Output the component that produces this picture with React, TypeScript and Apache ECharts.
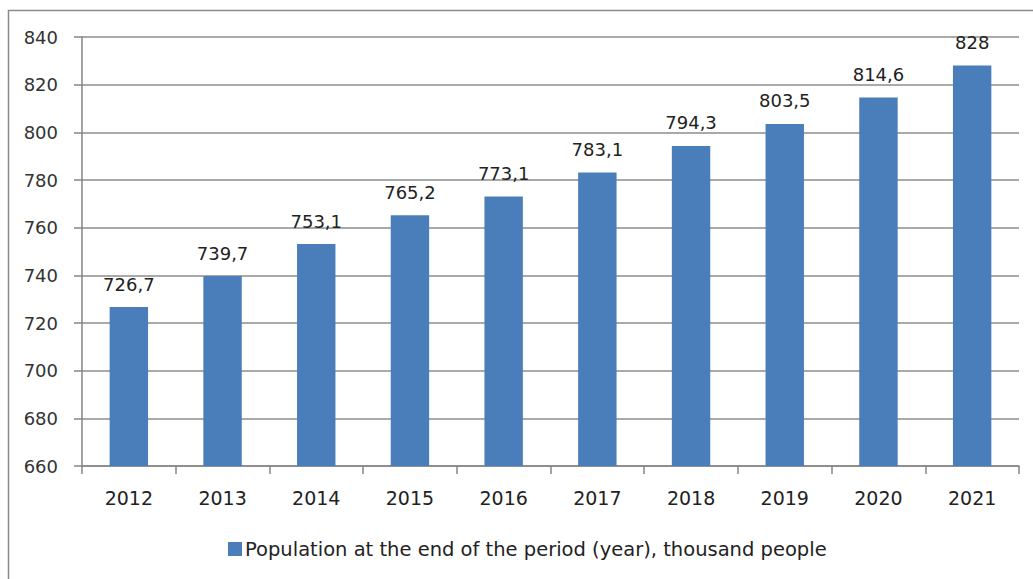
import React, { useEffect, useRef } from "react";
import * as echarts from "echarts";

const years = ["2012", "2013", "2014", "2015", "2016", "2017", "2018", "2019", "2020", "2021"];
const population = [726.7, 739.7, 753.1, 765.2, 773.1, 783.1, 794.3, 803.5, 814.6, 828];
const seriesName = "Population at the end of the period (year), thousand people";
const yMin = 660;
const yMax = 840;
const yStep = 20;

export default function App() {
  const ref = useRef<HTMLDivElement>(null);
  useEffect(() => {
    if (!ref.current) return;
    const chart = echarts.init(ref.current, null, { renderer: "svg" });
    const font = "DejaVu Sans";
    chart.setOption({
      animation: false,
      backgroundColor: "#ffffff",
      graphic: [
        {
          type: "rect",
          shape: { x: 8.5, y: 10.5, width: 1100, height: 700 },
          style: { fill: "none", stroke: "#8a8a8a", lineWidth: 1.5 },
          silent: true,
        },
      ],
      grid: { left: 82, right: 14, top: 37, bottom: 113, containLabel: false },
      legend: {
        top: 534,
        left: 223,
        itemWidth: 14,
        itemHeight: 14,
        icon: "rect",
        itemGap: 4,
        textStyle: { fontFamily: font, fontSize: 19.5, color: "#222", padding: [0, 0, 0, -2] },
        data: [seriesName],
      },
      xAxis: {
        type: "category",
        data: years,
        axisLine: { lineStyle: { color: "#868686", width: 1.5 } },
        axisTick: { show: true, length: 8, lineStyle: { color: "#868686", width: 1.5 } },
        axisLabel: { fontFamily: font, fontSize: 19, color: "#222", margin: 22 },
      },
      yAxis: {
        type: "value",
        min: yMin,
        max: yMax,
        interval: yStep,
        axisLine: { show: true, lineStyle: { color: "#868686", width: 1.5 } },
        axisTick: { show: true, length: 8, lineStyle: { color: "#868686", width: 1.5 } },
        axisLabel: { fontFamily: font, fontSize: 18, color: "#333", margin: 24 },
        splitLine: { lineStyle: { color: "#8c8c8c", width: 1.5 } },
      },
      series: [
        {
          name: seriesName,
          type: "bar",
          data: population,
          barWidth: "41%",
          itemStyle: { color: "#4a7ebb" },
          label: {
            show: true,
            position: "top",
            distance: 14,
            fontFamily: font,
            fontSize: 18,
            color: "#222",
            formatter: (p: any) => String(p.value).replace(".", ","),
          },
        },
      ],
    });
    return () => chart.dispose();
  }, []);
  return (
    <div
      ref={ref}
      style={{ position: "absolute", left: 0, top: 0, width: 1033, height: 579 }}
    />
  );
}
